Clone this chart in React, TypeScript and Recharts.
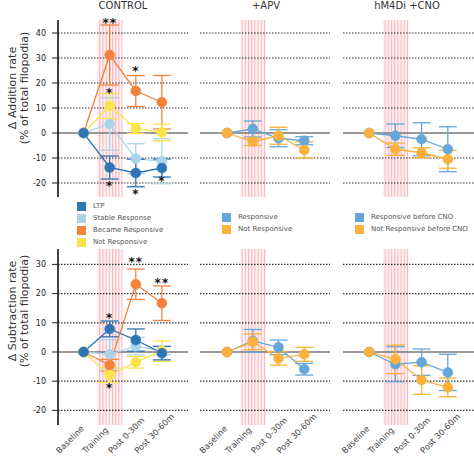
import React from 'react'
import { ComposedChart, Line, ErrorBar, XAxis, YAxis, ReferenceLine, ReferenceArea, Scatter } from 'recharts'

const phases = ['Baseline', 'Training', 'Post 0-30m', 'Post 30-60m']

// addition rate, CONTROL
const addLtp = [0, -13.8, -16, -14]
const addLtpSem = [0, 4.6, 5.5, 3.6]
const addStable = [0, 3.6, -10.3, -11.3]
const addStableSem = [0, 10.5, 6, 9]
const addBecame = [0, 31.2, 16.8, 12.3]
const addBecameSem = [0, 12, 6.2, 10.7]
const addNot = [0, 10.8, 1.8, 0.2]
const addNotSem = [0, 5, 2, 3.3]

// addition rate, +APV
const addApvResp = [0, 1.6, -2.1, -3.1]
const addApvRespSem = [0, 3.2, 3.4, 1.6]
const addApvNot = [0, -3.5, -1.1, -6.8]
const addApvNotSem = [0, 1.5, 3.4, 3.3]

// addition rate, hM4Di +CNO
const addCnoResp = [0, -1.1, -2.5, -6.5]
const addCnoRespSem = [0, 4.7, 6.6, 9]
const addCnoNot = [0, -6.5, -7.9, -10.5]
const addCnoNotSem = [0, 2.5, 2, 3.6]

// subtraction rate, CONTROL
const subLtp = [0, 7.9, 4.1, -0.4]
const subLtpSem = [0, 2.7, 3.8, 2.3]
const subStable = [0, -0.8, 2, 0.5]
const subStableSem = [0, 5, 3, 1.5]
const subBecame = [0, -4.5, 23.2, 16.7]
const subBecameSem = [0, 2, 5.2, 5.9]
const subNot = [0, -7.9, -3.5, 0.3]
const subNotSem = [0, 2.5, 2, 3.5]

// subtraction rate, +APV
const subApvResp = [0, 3.8, 1.6, -5.9]
const subApvRespSem = [0, 3.9, 2.5, 2]
const subApvNot = [0, 3.5, -2.2, -0.8]
const subApvNotSem = [0, 2.7, 2.3, 2.4]

// subtraction rate, hM4Di +CNO
const subCnoResp = [0, -4.2, -3.5, -7]
const subCnoRespSem = [0, 6, 4.5, 6.2]
const subCnoNot = [0, -2.5, -9.6, -12.1]
const subCnoNotSem = [0, 4.9, 4.9, 3.2]

// significance marks (control only)
const addStarX = [1, 1, 2, 1, 2, 3]
const addStarY = [44.9, 17, 25.5, -20.5, -23.5, -18.5]
const addStarText = ['**', '*', '*', '*', '*', '*']
const subStarX = [1, 1, 2, 3]
const subStarY = [12.2, -11.8, 31.5, 24.3]
const subStarText = ['*', '*', '**', '**']

const addTicks = [-20, -10, 0, 10, 20, 30, 40]
const subTicks = [-20, -10, 0, 10, 20, 30]

const C = {
  ltp: '#2e75b6',
  stable: '#a9d4ea',
  became: '#f5823a',
  not: '#fce34b',
  resp: '#66a7d8',
  notResp: '#fbb13c',
}

const FONT = '"DejaVu Sans", Verdana, sans-serif'
const PAD = 10 // room above the plot for the stars

type S = { name: string; vals: number[]; sem: number[]; color: string }

const rows = (series: S[]) =>
  phases.map((_, i) => {
    const r: Record<string, number> = { x: i }
    series.forEach((s) => {
      r[s.name] = s.vals[i]
      r[s.name + 'Sem'] = s.sem[i]
    })
    return r
  })

const stars = (xs: number[], ys: number[], t: string[]) => xs.map((x, i) => ({ x, y: ys[i], text: t[i] }))

const StarShape = (p: any) => (
  <text x={p.cx} y={p.cy + 6} textAnchor="middle" fontSize={12} fontWeight="bold" fill="#111" fontFamily={FONT} letterSpacing={1}>
    {p.payload.text}
  </text>
)

const PhaseTick = (p: any) => {
  const x = p.x - 24
  const y = p.y + 21
  return (
    <text x={x} y={y} transform={`rotate(-45 ${x} ${y})`} fontSize={8.3} fill="#444" fontFamily={FONT}>
      {phases[p.payload.value]}
    </text>
  )
}

function Panel(props: {
  left: number
  top: number
  width: number
  plotH: number
  xDomain: [number, number]
  yDomain: [number, number]
  ticks: number[]
  series: S[]
  yAxis?: boolean
  xLabels?: boolean
  marks?: { x: number; y: number; text: string }[]
  id: string
}) {
  const { left, top, width, plotH, xDomain, yDomain, ticks, series, yAxis, xLabels, marks, id } = props
  const h = PAD + plotH + (xLabels ? 40 : 0)
  return (
    <div style={{ position: 'absolute', left, top: top - PAD }}>
      <ComposedChart width={width} height={h} data={rows(series)} margin={{ top: PAD, right: 0, bottom: 0, left: 0 }}>
        <defs>
          <pattern id={id} width="3.2" height="10" patternUnits="userSpaceOnUse">
            <rect width="3.2" height="10" fill="#fdf1f2" />
            <rect width="1.1" height="10" fill="#f5b8c0" />
          </pattern>
        </defs>
        <XAxis
          type="number"
          dataKey="x"
          domain={xDomain}
          ticks={[0, 1, 2, 3]}
          hide={!xLabels}
          axisLine={false}
          tickLine={false}
          interval={0}
          height={40}
          tick={<PhaseTick />}
        />
        <YAxis
          type="number"
          domain={yDomain}
          ticks={ticks}
          hide={!yAxis}
          width={58}
          axisLine={{ stroke: '#111', strokeWidth: 1.6 }}
          tickLine={{ stroke: '#222' }}
          tickSize={6}
          tickMargin={6}
          tick={{ fontSize: 8, fill: '#222', fontFamily: FONT }}
        />
        <ReferenceArea x1={0.52} x2={1.5} fill={`url(#${id})`} fillOpacity={1} stroke="none" />
        {ticks
          .filter((t) => t !== 0)
          .map((t) => (
            <ReferenceLine key={t} y={t} stroke="#333" strokeWidth={1.2} strokeDasharray="1.5 1.5" />
          ))}
        <ReferenceLine y={0} stroke="#777" strokeWidth={1.5} />
        {series.map((s) => (
          <Line
            key={s.name}
            dataKey={s.name}
            stroke={s.color}
            strokeWidth={1.3}
            dot={{ r: 5, fill: s.color, stroke: s.color, strokeWidth: 0.5 }}
            activeDot={false}
            isAnimationActive={false}
          >
            <ErrorBar dataKey={s.name + 'Sem'} width={9} stroke={s.color} strokeWidth={1.3} direction="y" />
          </Line>
        ))}
        {marks && <Scatter data={marks} dataKey="y" shape={<StarShape />} isAnimationActive={false} />}
      </ComposedChart>
    </div>
  )
}

const addY: [number, number] = [-25.6, 45.2]
const subY: [number, number] = [-25, 35.27]

const legendRow = (x: number, y: number, color: string, label: string) => (
  <div key={label} style={{ position: 'absolute', left: x, top: y - 4.5, height: 9, display: 'flex', alignItems: 'center' }}>
    <div style={{ width: 9, height: 9, background: color }} />
    <span style={{ marginLeft: 7, fontSize: 7, color: '#555', fontFamily: FONT, whiteSpace: 'nowrap' }}>{label}</span>
  </div>
)

export default function App() {
  const ctrlAdd: S[] = [
    { name: 'became', vals: addBecame, sem: addBecameSem, color: C.became },
    { name: 'stable', vals: addStable, sem: addStableSem, color: C.stable },
    { name: 'not', vals: addNot, sem: addNotSem, color: C.not },
    { name: 'ltp', vals: addLtp, sem: addLtpSem, color: C.ltp },
  ]
  const ctrlSub: S[] = [
    { name: 'stable', vals: subStable, sem: subStableSem, color: C.stable },
    { name: 'became', vals: subBecame, sem: subBecameSem, color: C.became },
    { name: 'not', vals: subNot, sem: subNotSem, color: C.not },
    { name: 'ltp', vals: subLtp, sem: subLtpSem, color: C.ltp },
  ]
  const apvAdd: S[] = [
    { name: 'resp', vals: addApvResp, sem: addApvRespSem, color: C.resp },
    { name: 'notResp', vals: addApvNot, sem: addApvNotSem, color: C.notResp },
  ]
  const apvSub: S[] = [
    { name: 'resp', vals: subApvResp, sem: subApvRespSem, color: C.resp },
    { name: 'notResp', vals: subApvNot, sem: subApvNotSem, color: C.notResp },
  ]
  const cnoAdd: S[] = [
    { name: 'resp', vals: addCnoResp, sem: addCnoRespSem, color: C.resp },
    { name: 'notResp', vals: addCnoNot, sem: addCnoNotSem, color: C.notResp },
  ]
  const cnoSub: S[] = [
    { name: 'resp', vals: subCnoResp, sem: subCnoRespSem, color: C.resp },
    { name: 'notResp', vals: subCnoNot, sem: subCnoNotSem, color: C.notResp },
  ]

  const title = (x: number, t: string) => (
    <div style={{ position: 'absolute', left: x - 60, top: 0, width: 120, textAlign: 'center', fontSize: 10, lineHeight: '12px', color: '#333', fontFamily: FONT }}>{t}</div>
  )

  return (
    <div style={{ position: 'absolute', left: 0, top: 0, width: 474, height: 459, background: '#fff', overflow: 'hidden' }}>
      <style>{'svg.recharts-surface { overflow: visible; }'}</style>
      {title(123, 'CONTROL')}
      {title(266, '+APV')}
      {title(407, 'hM4Di +CNO')}

      <svg style={{ position: 'absolute', left: 0, top: 0 }} width={40} height={459}>
        <g fontFamily={FONT} fontSize={11} fill="#333" textAnchor="middle">
          <text transform="translate(16,88) rotate(-90)">Δ Addition rate</text>
          <text transform="translate(28,88) rotate(-90)">(% of total filopodia)</text>
          <text transform="translate(16,311) rotate(-90)">Δ Subtraction rate</text>
          <text transform="translate(28,311) rotate(-90)">(% of total filopodia)</text>
        </g>
      </svg>

      <Panel id="p1" left={0} top={20} width={188} plotH={177} xDomain={[-0.98, 4]} yDomain={addY} ticks={addTicks} series={ctrlAdd} yAxis marks={stars(addStarX, addStarY, addStarText)} />
      <Panel id="p2" left={200} top={20} width={130} plotH={177} xDomain={[-1.05, 4]} yDomain={addY} ticks={addTicks} series={apvAdd} />
      <Panel id="p3" left={343} top={20} width={131} plotH={177} xDomain={[-1, 4]} yDomain={addY} ticks={addTicks} series={cnoAdd} />

      <Panel id="p4" left={0} top={249} width={188} plotH={176} xDomain={[-0.98, 4]} yDomain={subY} ticks={subTicks} series={ctrlSub} yAxis xLabels marks={stars(subStarX, subStarY, subStarText)} />
      <Panel id="p5" left={200} top={249} width={130} plotH={176} xDomain={[-1.05, 4]} yDomain={subY} ticks={subTicks} series={apvSub} xLabels />
      <Panel id="p6" left={343} top={249} width={131} plotH={176} xDomain={[-1, 4]} yDomain={subY} ticks={subTicks} series={cnoSub} xLabels />

      {legendRow(77, 206, C.ltp, 'LTP')}
      {legendRow(77, 218, C.stable, 'Stable Response')}
      {legendRow(77, 230, C.became, 'Became Responsive')}
      {legendRow(77, 242, C.not, 'Not Responsive')}
      {legendRow(222, 217, C.resp, 'Responsive')}
      {legendRow(222, 229, C.notResp, 'Not Responsive')}
      {legendRow(355, 217, C.resp, 'Responsive before CNO')}
      {legendRow(355, 229, C.notResp, 'Not Responsive before CNO')}
    </div>
  )
}
